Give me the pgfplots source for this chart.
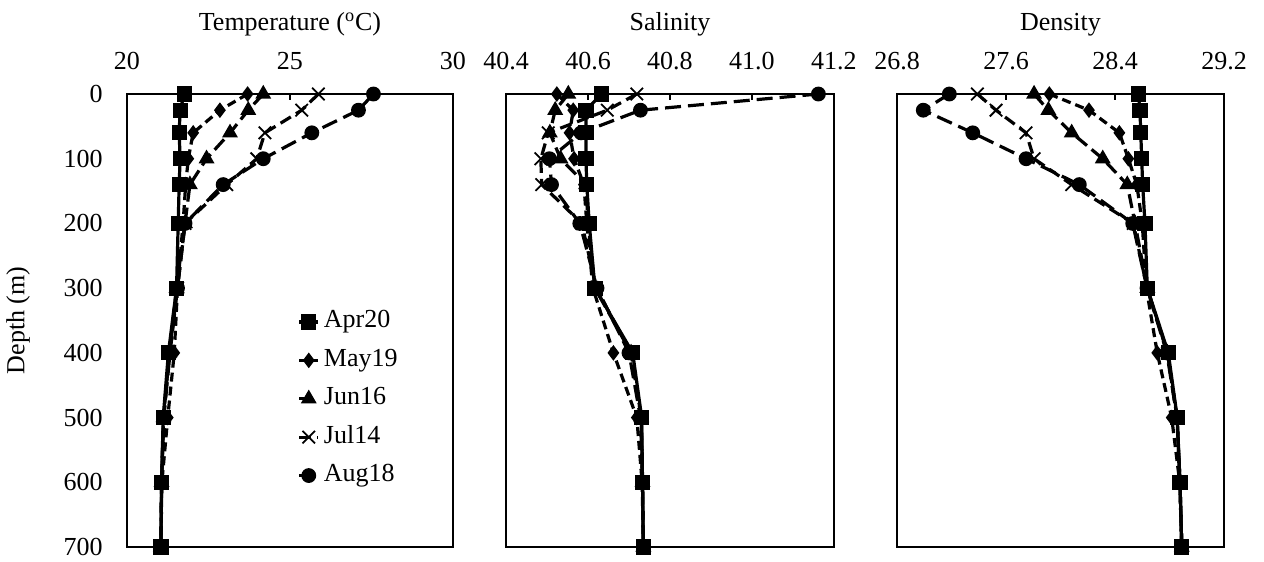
\documentclass[border=0pt]{standalone}
\usepackage{pgfplots}
\usepackage{pgfplotstable}
\usepackage{fontspec}
\setmainfont{Liberation Serif}
\pgfplotsset{compat=1.18}

\pgfplotstableread{
d T S D
0 21.76 40.633 28.571
25 21.63 40.595 28.583
60 21.60 40.595 28.589
100 21.63 40.595 28.596
140 21.60 40.597 28.603
200 21.57 40.603 28.620
300 21.52 40.617 28.637
400 21.27 40.709 28.791
500 21.11 40.731 28.857
600 21.06 40.733 28.877
700 21.04 40.735 28.890
}\apr
\pgfplotstableread{
d T S D
0 23.70 40.524 27.918
25 22.85 40.564 28.209
60 22.03 40.555 28.432
100 21.88 40.566 28.498
140 21.80 40.590 28.560
200 21.72 40.597 28.600
300 21.55 40.612 28.630
400 21.45 40.662 28.710
500 21.25 40.719 28.816
600 21.07 40.732 28.875
700 21.04 40.735 28.890
}\may
\pgfplotstableread{
d T S D
0 24.18 40.552 27.806
25 23.72 40.520 27.911
60 23.16 40.507 28.082
100 22.44 40.533 28.310
140 21.93 40.595 28.490
200 21.78 40.600 28.547
300 21.52 40.617 28.637
400 21.30 40.705 28.785
500 21.12 40.730 28.855
600 21.06 40.733 28.877
700 21.04 40.735 28.890
}\jun
\pgfplotstableread{
d T S D
0 25.87 40.719 27.390
25 25.36 40.647 27.527
60 24.23 40.503 27.747
100 23.98 40.485 27.806
140 23.06 40.487 28.082
200 21.78 40.585 28.534
300 21.55 40.620 28.635
400 21.30 40.705 28.785
500 21.12 40.730 28.855
600 21.06 40.733 28.877
700 21.04 40.735 28.890
}\jul
\pgfplotstableread{
d T S D
0 27.56 41.162 27.184
25 27.10 40.728 26.993
60 25.67 40.583 27.356
100 24.18 40.506 27.747
140 22.95 40.511 28.138
200 21.78 40.580 28.530
300 21.55 40.622 28.635
400 21.32 40.700 28.780
500 21.13 40.728 28.855
600 21.06 40.733 28.877
700 21.04 40.735 28.890
}\aug

\pgfplotsset{
  prof/.style={
    scale only axis, width=163pt, height=226.5pt,
    anchor=south west,
    y dir=reverse, ymin=0, ymax=700,
    ytick={0,100,...,700},
    ytick style={draw=none},
    xtick pos=right, xticklabel pos=right,
    tick align=inside,
    major tick length=3pt,
    xtick style={black, line width=0.6pt},
    axis line style={black, line width=0.6pt},
    clip=false,
    font=\fontsize{13}{15.6}\selectfont,
    tick label style={font=\fontsize{13}{15.6}\selectfont},
    /pgf/number format/assume math mode=true,
    xticklabel style={anchor=base, inner sep=0pt, yshift=12.3pt},
    yticklabel style={anchor=east, inner sep=0pt, xshift=-12pt},
    title style={at={(axis description cs:0.5,1)}, anchor=base, yshift=26pt, inner sep=0pt},
    legend image code/.code={\draw[mark repeat=2,mark phase=2,#1] plot coordinates {(0pt,0pt) (4.8pt,0pt) (9.6pt,0pt)};},
  },
  sApr/.style={black, line width=1.6pt, solid, mark=square*, mark size=3pt, mark options={solid}},
  sMay/.style={black, line width=1.6pt, dash pattern=on 4.5pt off 2.5pt, mark=diamond*, mark size=2.6pt, mark options={solid}},
  sJun/.style={black, line width=1.6pt, dash pattern=on 7pt off 3pt, mark=triangle*, mark size=3pt, mark options={solid}},
  sJul/.style={black, line width=1.6pt, dash pattern=on 6pt off 3pt, mark=x, mark size=4.4pt, mark options={solid, line width=0.9pt}},
  sAug/.style={black, line width=1.6pt, dash pattern=on 8pt off 3.5pt, mark=*, mark size=2.9pt, mark options={solid}},
}

\begin{document}
\begin{tikzpicture}
\useasboundingbox (0,0) rectangle (632pt,281pt);

\begin{axis}[prof, at={(63.5pt,7.5pt)},
  xmin=20, xmax=30, xtick={20,25,30},
  title={Temperature (\textsuperscript{o}C)},
  ylabel={Depth (m)},
  ylabel style={at={(axis description cs:-0.334,0.5)}, anchor=center, rotate=0},
  legend cell align=left,
  legend style={draw=none, fill=none, inner sep=0pt, row sep=3.2pt,
    at={(axis description cs:0.522,0.533)}, anchor=north west,
    nodes={inner sep=2pt, text height=9pt, text depth=3pt},
    font=\fontsize{13}{15.6}\selectfont},
]
\addplot[sApr] table[x=T,y=d] {\apr}; \addlegendentry{Apr20}
\addplot[sMay] table[x=T,y=d] {\may}; \addlegendentry{May19}
\addplot[sJun] table[x=T,y=d] {\jun}; \addlegendentry{Jun16}
\addplot[sJul] table[x=T,y=d] {\jul}; \addlegendentry{Jul14}
\addplot[sAug] table[x=T,y=d] {\aug}; \addlegendentry{Aug18}
\end{axis}

\begin{axis}[prof, at={(253pt,7.5pt)}, width=164pt,
  xmin=40.4, xmax=41.2, xtick={40.4,40.6,40.8,41.0,41.2},
  xticklabel style={/pgf/number format/.cd, fixed, fixed zerofill, precision=1},
  yticklabels={},
  title={Salinity},
]
\addplot[sApr] table[x=S,y=d] {\apr};
\addplot[sMay] table[x=S,y=d] {\may};
\addplot[sJun] table[x=S,y=d] {\jun};
\addplot[sJul] table[x=S,y=d] {\jul};
\addplot[sAug] table[x=S,y=d] {\aug};
\end{axis}

\begin{axis}[prof, at={(448.5pt,7.5pt)}, width=163.5pt,
  xmin=26.8, xmax=29.2, xtick={26.8,27.6,28.4,29.2},
  xticklabel style={/pgf/number format/.cd, fixed, fixed zerofill, precision=1},
  yticklabels={},
  title={Density},
]
\addplot[sApr] table[x=D,y=d] {\apr};
\addplot[sMay] table[x=D,y=d] {\may};
\addplot[sJun] table[x=D,y=d] {\jun};
\addplot[sJul] table[x=D,y=d] {\jul};
\addplot[sAug] table[x=D,y=d] {\aug};
\end{axis}
\end{tikzpicture}
\end{document}
